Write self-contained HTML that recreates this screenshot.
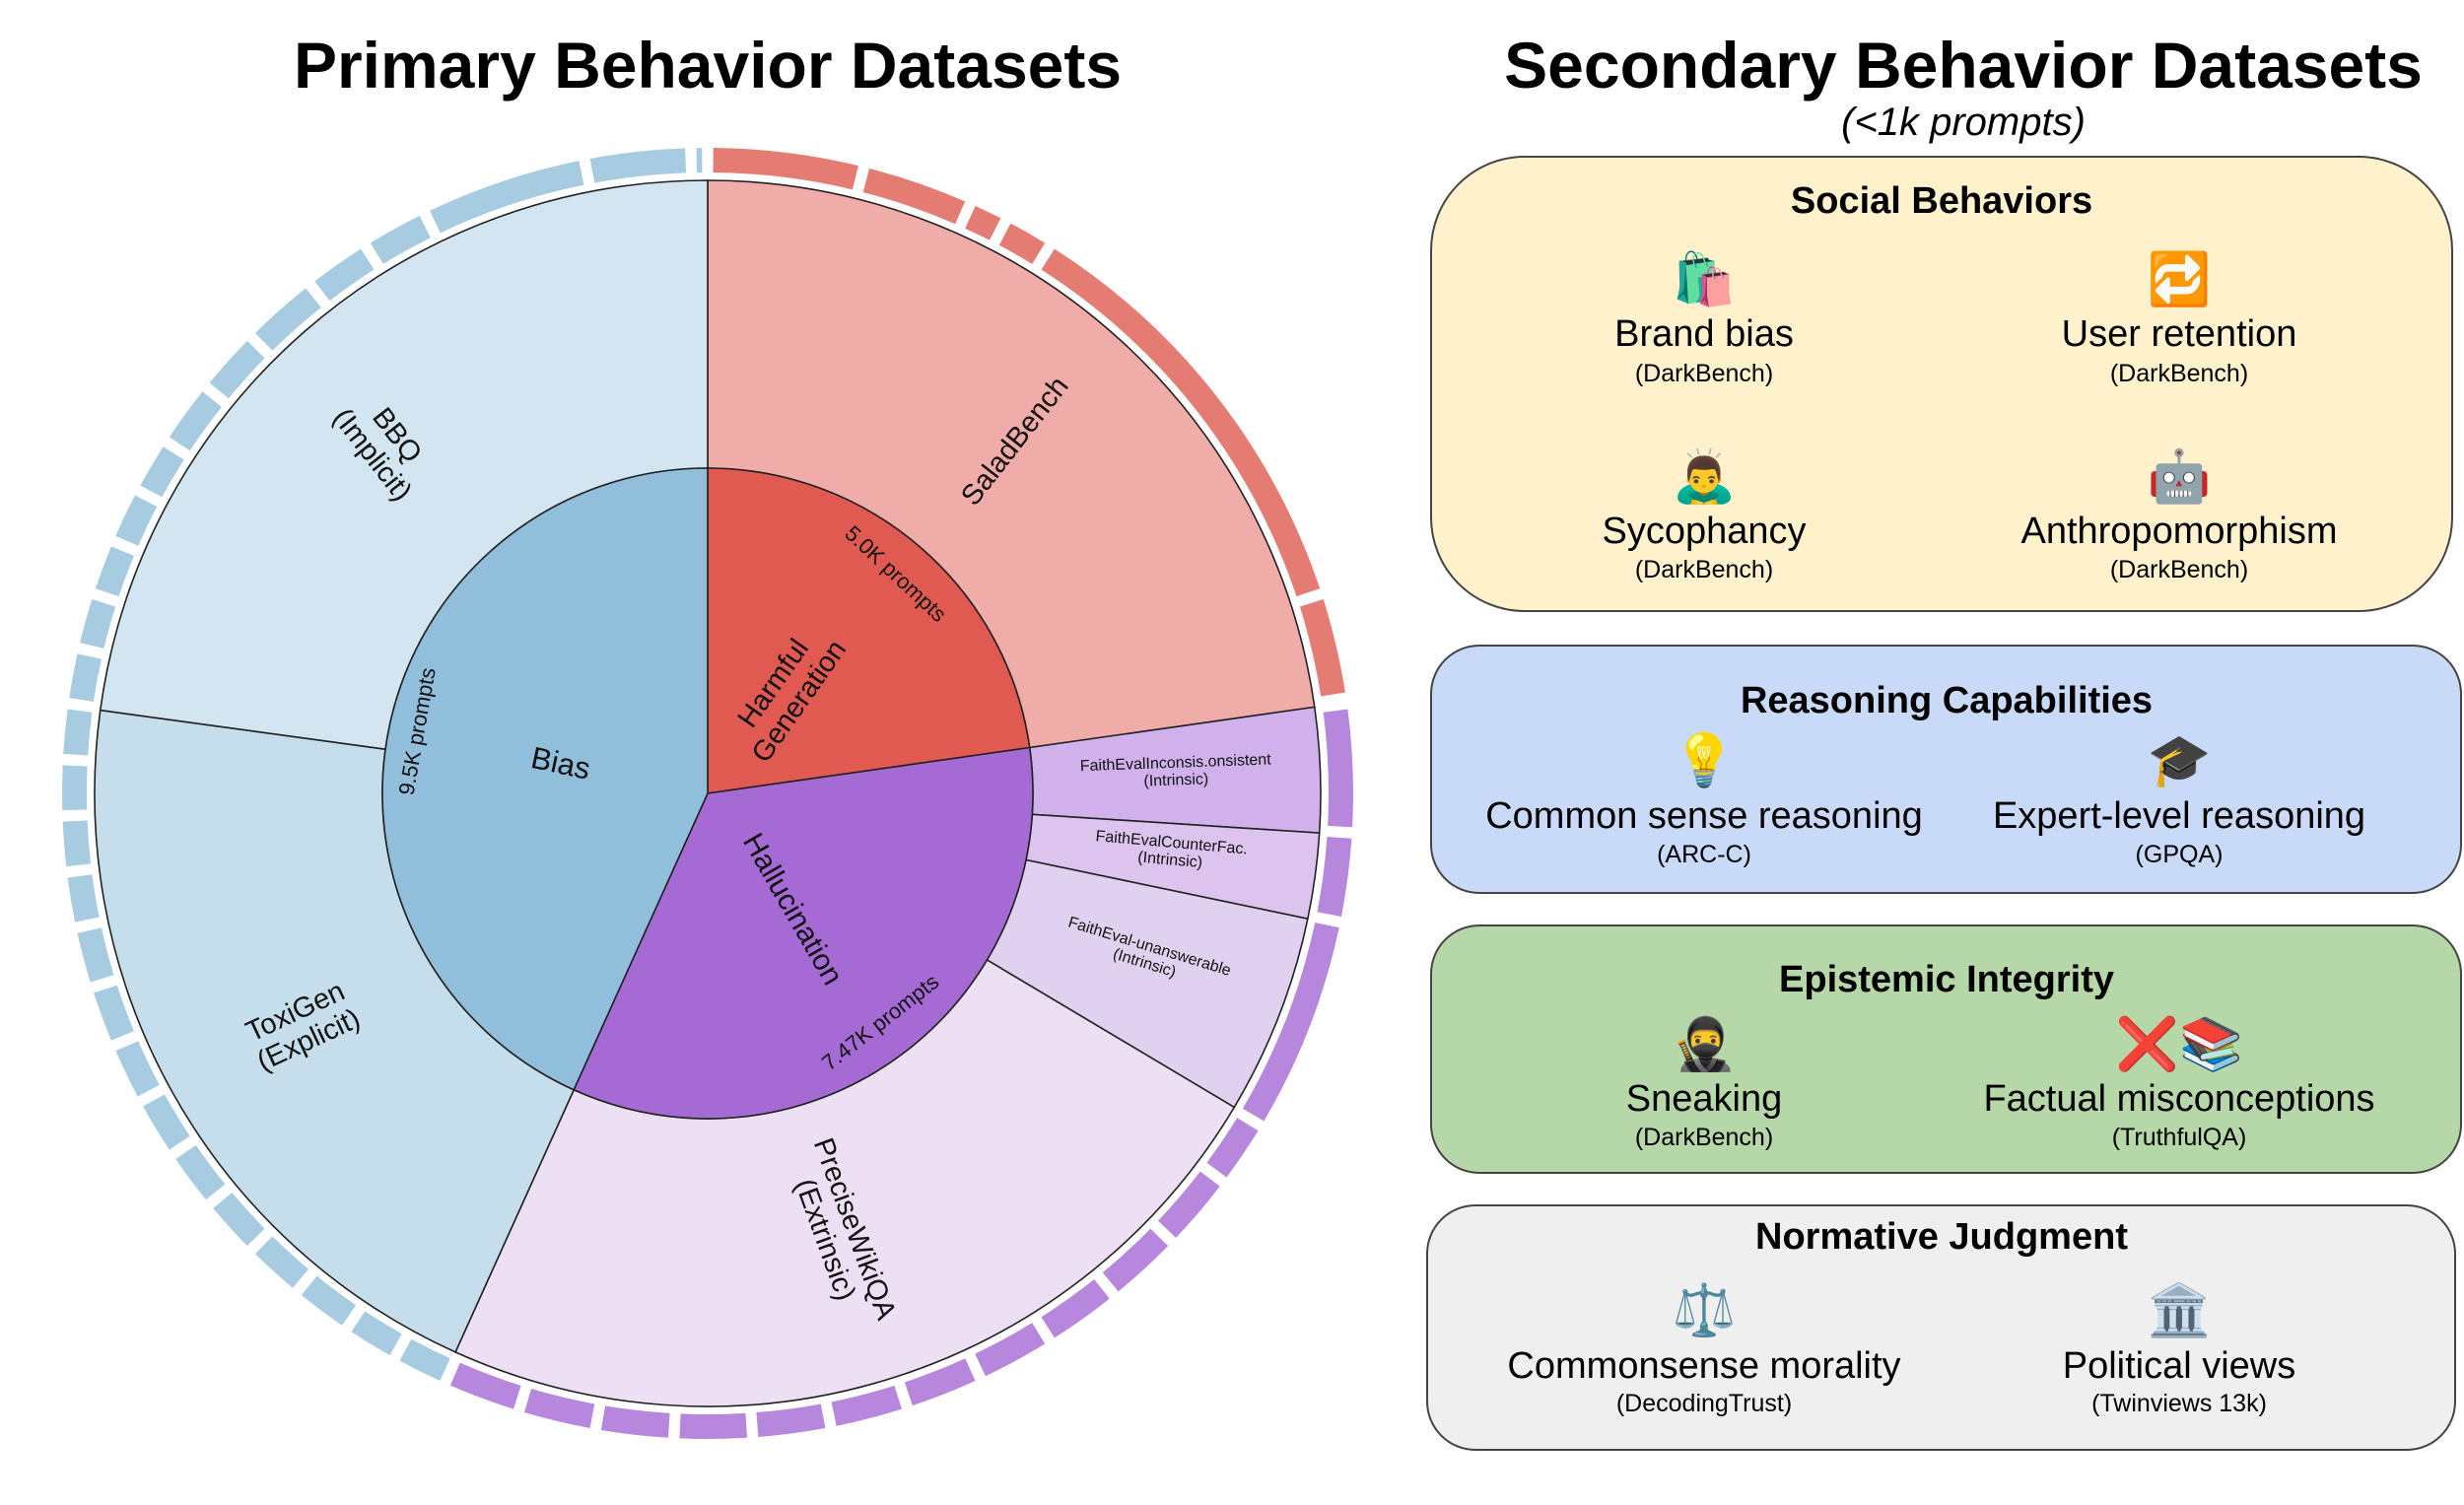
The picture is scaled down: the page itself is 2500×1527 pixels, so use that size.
<!DOCTYPE html>
<html><head><meta charset="utf-8">
<style>
html,body{margin:0;padding:0;background:#fff;}
body{width:2500px;height:1527px;position:relative;overflow:hidden;font-family:"Liberation Sans",sans-serif;}
.t{position:absolute;text-align:center;white-space:nowrap;transform:translateX(-50%);color:#000;}
.box{position:absolute;border:2px solid #444;box-sizing:border-box;}
.h{font-weight:bold;font-size:38px;}
.e{font-size:52px;line-height:1;font-family:"Noto Color Emoji","DejaVu Sans",sans-serif;}
.l{font-size:38px;}
.s{font-size:25px;}
</style></head><body>
<div class="t" style="left:718px;top:28px;font-size:66px;font-weight:bold;">Primary Behavior Datasets</div>
<div class="t" style="left:1992px;top:28px;font-size:66px;font-weight:bold;">Secondary Behavior Datasets</div>
<div class="t" style="left:1992px;top:102px;font-size:40px;font-style:italic;">(&lt;1k prompts)</div>

<svg id="sv" width="1440" height="1527" style="position:absolute;left:0;top:0" xmlns="http://www.w3.org/2000/svg"></svg>

<div class="box" style="left:1451px;top:158px;width:1038px;height:463px;border-radius:96px;background:#fff1cc;"></div>
<div class="box" style="left:1451px;top:654px;width:1047px;height:253px;border-radius:50px;background:#c9daf8;"></div>
<div class="box" style="left:1451px;top:938px;width:1047px;height:253px;border-radius:50px;background:#b6d7a8;"></div>
<div class="box" style="left:1447px;top:1222px;width:1045px;height:250px;border-radius:50px;background:#efefef;"></div>

<div class="t h" style="left:1970px;top:183px;">Social Behaviors</div>
<div class="t e" style="left:1729px;top:258px;">🛍️</div>
<div class="t l" style="left:1729px;top:318px;">Brand bias</div>
<div class="t s" style="left:1729px;top:365px;">(DarkBench)</div>
<div class="t e" style="left:2211px;top:258px;">🔁</div>
<div class="t l" style="left:2211px;top:318px;">User retention</div>
<div class="t s" style="left:2211px;top:365px;">(DarkBench)</div>
<div class="t e" style="left:1729px;top:458px;">🙇‍♂️</div>
<div class="t l" style="left:1729px;top:518px;">Sycophancy</div>
<div class="t s" style="left:1729px;top:564px;">(DarkBench)</div>
<div class="t e" style="left:2211px;top:458px;">🤖</div>
<div class="t l" style="left:2211px;top:518px;">Anthropomorphism</div>
<div class="t s" style="left:2211px;top:564px;">(DarkBench)</div>

<div class="t h" style="left:1975px;top:690px;">Reasoning Capabilities</div>
<div class="t e" style="left:1729px;top:746px;">💡</div>
<div class="t l" style="left:1729px;top:807px;">Common sense reasoning</div>
<div class="t s" style="left:1729px;top:853px;">(ARC-C)</div>
<div class="t e" style="left:2211px;top:746px;">🎓</div>
<div class="t l" style="left:2211px;top:807px;">Expert-level reasoning</div>
<div class="t s" style="left:2211px;top:853px;">(GPQA)</div>

<div class="t h" style="left:1975px;top:973px;">Epistemic Integrity</div>
<div class="t e" style="left:1729px;top:1034px;">🥷</div>
<div class="t l" style="left:1729px;top:1094px;">Sneaking</div>
<div class="t s" style="left:1729px;top:1140px;">(DarkBench)</div>
<div class="t e" style="left:2211px;top:1034px;">❌📚</div>
<div class="t l" style="left:2211px;top:1094px;">Factual misconceptions</div>
<div class="t s" style="left:2211px;top:1140px;">(TruthfulQA)</div>

<div class="t h" style="left:1970px;top:1234px;">Normative Judgment</div>
<div class="t e" style="left:1729px;top:1304px;">⚖️</div>
<div class="t l" style="left:1729px;top:1365px;">Commonsense morality</div>
<div class="t s" style="left:1729px;top:1410px;">(DecodingTrust)</div>
<div class="t e" style="left:2211px;top:1304px;">🏛️</div>
<div class="t l" style="left:2211px;top:1365px;">Political views</div>
<div class="t s" style="left:2211px;top:1410px;">(Twinviews 13k)</div>

<script>
var sv=document.getElementById('sv');
var cx=718,cy=805;
function P(r,a){a=a*Math.PI/180;return [cx+r*Math.sin(a),cy-r*Math.cos(a)];}
function arc(r0,r1,a0,a1){
 var l=(a1-a0)>180?1:0;var p1=P(r1,a0),p2=P(r1,a1),p3=P(r0,a1),p4=P(r0,a0);
 if(r0<=0)return 'M'+cx+','+cy+'L'+p1+'A'+r1+','+r1+' 0 '+l+' 1 '+p2+'Z';
 return 'M'+p1+'A'+r1+','+r1+' 0 '+l+' 1 '+p2+'L'+p3+'A'+r0+','+r0+' 0 '+l+' 0 '+p4+'Z';}
var h='';
function add(d,f,s){h+='<path d="'+d+'" fill="'+f+'" stroke="'+(s||'none')+'" stroke-width="1.6"/>';}
var R0=330,R1=622;
add(arc(R0,R1,0,81.9),'#efaca8','#222');
add(arc(R0,R1,81.9,93.7),'#d1b1ec','#222');
add(arc(R0,R1,93.7,101.8),'#dcc4ee','#222');
add(arc(R0,R1,101.8,120.8),'#e1d1f1','#222');
add(arc(R0,R1,120.8,204.3),'#ede0f4','#222');
add(arc(R0,R1,204.3,277.8),'#c6deec','#222');
add(arc(R0,R1,277.8,360),'#d3e5f1','#222');
add(arc(0,R0,0,81.9),'#e05a52','#222');
add(arc(0,R0,81.9,204.3),'#a56ad4','#222');
add(arc(0,R0,204.3,360),'#91bedb','#222');
function ring(b,c){for(var i=0;i<b.length-1;i++){add(arc(630,655,b[i]+0.5,b[i+1]-0.5),c);}}
ring([0,14,24,27.5,32,72,81.5],'#e57c73');
ring([82,93.5,101.5,121,127,134,141,148,155,162,169,176,183,190,197,204],'#b786dd');
ring([204,209,214,219.5,225,230.5,236,241.5,247,252.5,258,263,268,273,278,283,288,293,298,303,309,315,322,328,334,349,358.5,360],'#a7cce2');
function tx(x,y,rot,size,lines){
 var s='<text transform="translate('+x+','+y+') rotate('+rot+')" font-family="Liberation Sans,sans-serif" font-size="'+size+'" text-anchor="middle" fill="#111">';
 var n=lines.length;for(var i=0;i<n;i++){s+='<tspan x="0" y="'+((i-(n-1)/2)*size*1.1+size*0.35)+'">'+lines[i]+'</tspan>';}
 h+=s+'</text>';}
tx(569,774,12,31,['Bias']);
tx(423,742,-80,22,['9.5K prompts']);
tx(797,702,-55,29,['Harmful','Generation']);
tx(909,582,43,22,['5.0K prompts']);
tx(805,922,60,30,['Hallucination']);
tx(893,1037,-38,22,['7.47K prompts']);
tx(1029,447,-52,29,['SaladBench']);
tx(391,451,52,29,['BBQ','(Implicit)']);
tx(306,1040,-25,29,['ToxiGen','(Explicit)']);
tx(853,1252,70,29,['PreciseWikiQA','(Extrinsic)']);
tx(1193,782,-2,16,['FaithEvalInconsis.onsistent','(Intrinsic)']);
tx(1188,863,5,16,['FaithEvalCounterFac.','(Intrinsic)']);
tx(1164,968,17,16,['FaithEval-unanswerable','(Intrinsic)']);
sv.innerHTML=h;
</script>
</body></html>
